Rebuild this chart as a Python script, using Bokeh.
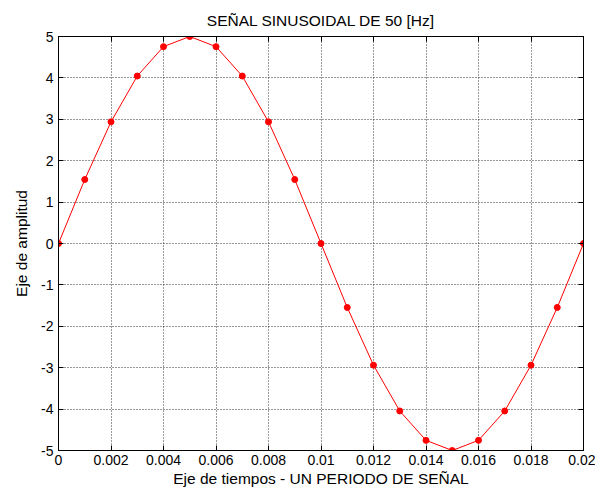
from bokeh.plotting import figure
from bokeh.models import FixedTicker, Range1d, LinearAxis, CustomJSTickFormatter
from bokeh.embed import file_html
from bokeh.resources import INLINE

t = [0.0, 0.001, 0.002, 0.003, 0.004, 0.005, 0.006, 0.007, 0.008, 0.009, 0.010,
     0.011, 0.012, 0.013, 0.014, 0.015, 0.016, 0.017, 0.018, 0.019, 0.020]
amp = [0.0, 1.545, 2.939, 4.045, 4.755, 5.0, 4.755, 4.045, 2.939, 1.545, 0.0,
       -1.545, -2.939, -4.045, -4.755, -5.0, -4.755, -4.045, -2.939, -1.545, 0.0]
x_ticks = [0, 0.002, 0.004, 0.006, 0.008, 0.01, 0.012, 0.014, 0.016, 0.018, 0.02]
x_tick_labels = ["0", "0.002", "0.004", "0.006", "0.008", "0.01", "0.012", "0.014", "0.016", "0.018", "0.02"]
y_ticks = [-5, -4, -3, -2, -1, 0, 1, 2, 3, 4, 5]
y_tick_labels = ["-5", "-4", "-3", "-2", "-1", "0", "1", "2", "3", "4", "5"]

FONT = "Liberation Sans"

p = figure(width=595, height=493, output_backend="svg", toolbar_location=None,
           x_range=Range1d(0, 0.02), y_range=Range1d(-5, 5),
           min_border_left=58, min_border_right=12, min_border_top=36, min_border_bottom=43)
p.title.text = "SEÑAL SINUSOIDAL DE 50 [Hz]"
p.title.align = "center"
p.title.text_font = FONT
p.title.text_font_size = "15.5px"
p.title.text_font_style = "normal"
p.title.text_color = "black"
p.title.offset = 0
p.title.standoff = 16

p.outline_line_color = "black"
p.outline_line_width = 1
p.outline_line_alpha = 1

p.line(t, amp, color="red", line_width=1)
p.scatter(t, amp, color="red", size=6)

p.xaxis.ticker = FixedTicker(ticks=x_ticks)
p.xaxis.major_label_overrides = {v: s for v, s in zip(x_ticks, x_tick_labels)}
p.yaxis.ticker = FixedTicker(ticks=y_ticks)
p.yaxis.major_label_overrides = {v: s for v, s in zip(y_ticks, y_tick_labels)}
p.xaxis.axis_label = "Eje de tiempos - UN PERIODO DE SEÑAL"
p.yaxis.axis_label = "Eje de amplitud"

for ax in [p.xaxis[0], p.yaxis[0]]:
    ax.major_tick_in = 5
    ax.major_tick_out = 0
    ax.minor_tick_in = 0
    ax.minor_tick_out = 0
    ax.axis_line_color = "black"
    ax.major_tick_line_color = "black"
    ax.major_label_text_font = FONT
    ax.major_label_text_font_size = "14px"
    ax.major_label_text_color = "black"
    ax.axis_label_text_font = FONT
    ax.axis_label_text_font_size = "15.5px"
    ax.axis_label_text_font_style = "normal"
    ax.axis_label_text_color = "black"

p.xaxis[0].major_label_standoff = 4
p.xaxis[0].axis_label_standoff = 2
p.yaxis[0].major_label_standoff = 5
p.yaxis[0].axis_label_standoff = 8

# top / right axes with inward ticks, no labels
blank = CustomJSTickFormatter(code="return '';")
top = LinearAxis(ticker=FixedTicker(ticks=x_ticks), formatter=blank,
                 major_tick_in=5, major_tick_out=0, minor_tick_in=0, minor_tick_out=0,
                 major_label_standoff=0)
right = LinearAxis(ticker=FixedTicker(ticks=y_ticks), formatter=blank,
                   major_tick_in=5, major_tick_out=0, minor_tick_in=0, minor_tick_out=0,
                   major_label_standoff=0)
p.add_layout(top, "above")
p.add_layout(right, "right")

p.xgrid.ticker = FixedTicker(ticks=x_ticks)
p.ygrid.ticker = FixedTicker(ticks=y_ticks)
p.grid.grid_line_color = "black"
p.grid.grid_line_dash = "1 2"
p.grid.grid_line_alpha = 0.8

open("out.html", "w").write(file_html(p, INLINE))
